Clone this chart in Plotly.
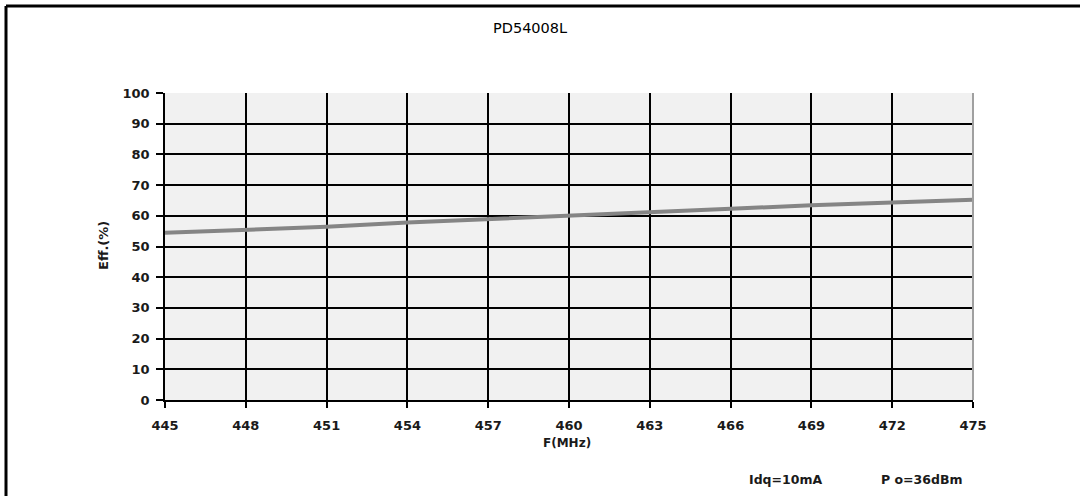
import plotly.graph_objects as go

freq_mhz = [445, 448, 451, 454, 457, 460, 463, 466, 469, 472, 475]
efficiency_pct = [54.5, 55.4, 56.4, 57.8, 59.0, 60.0, 61.1, 62.3, 63.4, 64.4, 65.2]
x_ticks = [445, 448, 451, 454, 457, 460, 463, 466, 469, 472, 475]
y_ticks = [0, 10, 20, 30, 40, 50, 60, 70, 80, 90, 100]

W, H = 1080, 496
L, R, T, B = 165, 107, 93, 96
pw, ph = W - L - R, H - T - B

def px(p):
    return (p - L) / pw

def py(p):
    return (H - B - p) / ph

fig = go.Figure()
fig.add_trace(go.Scatter(
    x=freq_mhz, y=efficiency_pct, mode="lines",
    line=dict(color="#858585", width=4),
    showlegend=False, hoverinfo="skip",
))

font = "DejaVu Sans, sans-serif"
tickfont = dict(size=13, family=font, color="#1a1a1a")
fig.update_layout(
    width=W, height=H,
    margin=dict(l=L, r=R, t=T, b=B, pad=0),
    paper_bgcolor="white",
    plot_bgcolor="#f1f1f1",
    font=dict(family=font, color="black"),
    xaxis=dict(
        range=[445, 475], tickvals=x_ticks, ticktext=[f"<b>{v}</b>" for v in x_ticks],
        showgrid=True, gridcolor="black", gridwidth=1.5,
        showline=True, linecolor="black", linewidth=1.5,
        ticks="outside", ticklen=6, tickcolor="black", tickwidth=1.5,
        tickfont=tickfont, zeroline=False, ticklabelstandoff=7,
    ),
    yaxis=dict(
        range=[0, 100], tickvals=y_ticks, ticktext=[f"<b>{v}</b>" for v in y_ticks],
        showgrid=True, gridcolor="black", gridwidth=1.5,
        showline=True, linecolor="black", linewidth=1.5,
        ticks="outside", ticklen=7, tickcolor="black", tickwidth=1.5,
        tickfont=tickfont, zeroline=False, ticklabelstandoff=4,
    ),
    shapes=[
        # right plot border (grey)
        dict(type="line", xref="paper", yref="paper", x0=1, x1=1, y0=0, y1=1,
             line=dict(color="#a0a0a0", width=2)),
        # outer frame
        dict(type="line", xref="paper", yref="paper", x0=px(6), x1=px(1090), y0=py(6), y1=py(6),
             line=dict(color="black", width=3)),
        dict(type="line", xref="paper", yref="paper", x0=px(6), x1=px(6), y0=py(6), y1=py(510),
             line=dict(color="black", width=3)),
    ],
    annotations=[
        dict(text="PD54008L", xref="paper", yref="paper", x=px(530), y=py(28),
             showarrow=False, font=dict(size=14.5, family=font, color="black"),
             xanchor="center", yanchor="middle"),
        dict(text="<b>Eff.(%)</b>", xref="paper", yref="paper", x=px(103), y=py(246),
             showarrow=False, textangle=-90, font=dict(size=13, family=font, color="#1a1a1a"),
             xanchor="center", yanchor="middle"),
        dict(text="<b>F(MHz)</b>", xref="paper", yref="paper", x=px(567), y=py(443),
             showarrow=False, font=dict(size=12, family=font, color="#1a1a1a"),
             xanchor="center", yanchor="middle"),
        dict(text="<b>Idq=10mA</b>", xref="paper", yref="paper", x=px(785), y=py(479),
             showarrow=False, font=dict(size=12.5, family=font, color="#1a1a1a"),
             xanchor="center", yanchor="middle"),
        dict(text="<b>P o=36dBm</b>", xref="paper", yref="paper", x=px(921), y=py(479),
             showarrow=False, font=dict(size=12.5, family=font, color="#1a1a1a"),
             xanchor="center", yanchor="middle"),
    ],
)

fig.write_html("out.html")
